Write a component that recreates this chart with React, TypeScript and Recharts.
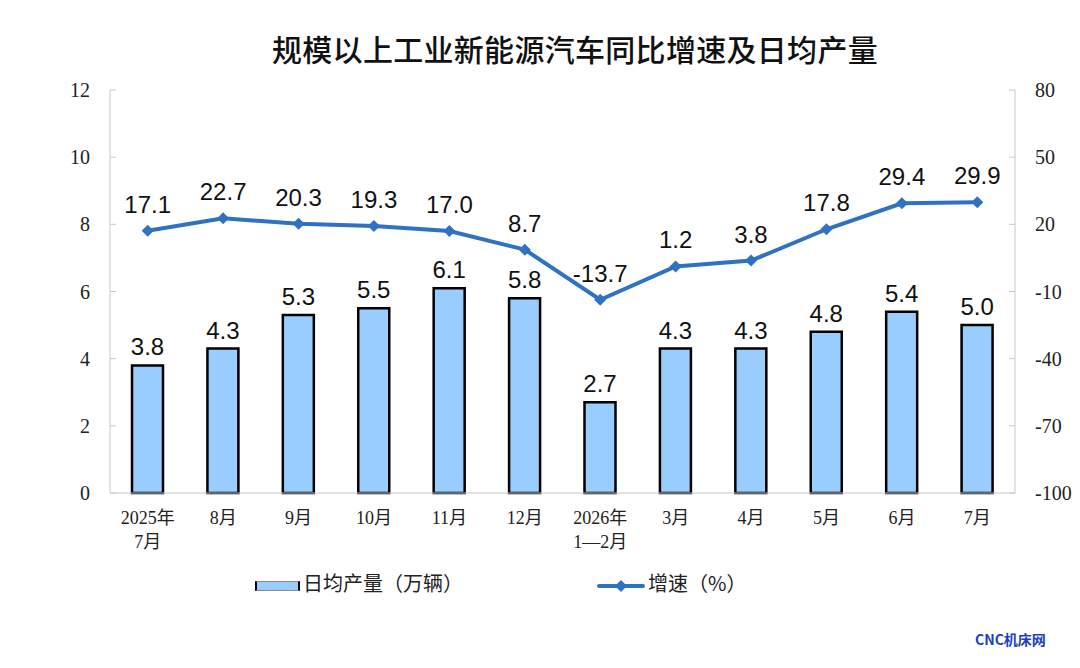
import {
  ComposedChart, Bar, Line, XAxis, YAxis, LabelList,
} from 'recharts'

// Kategorien (zweizeilig mit \n)
const MONTHS = [
  '2025年\n7月', '8月', '9月', '10月', '11月', '12月',
  '2026年\n1—2月', '3月', '4月', '5月', '6月', '7月',
]
// Tagesdurchschnitt Produktion (万辆)
const DAILY_OUTPUT = [3.8, 4.3, 5.3, 5.5, 6.1, 5.8, 2.7, 4.3, 4.3, 4.8, 5.4, 5.0]
// Wachstum ggü. Vorjahr (%)
const GROWTH = [17.1, 22.7, 20.3, 19.3, 17.0, 8.7, -13.7, 1.2, 3.8, 17.8, 29.4, 29.9]

const LEFT_TICKS = [0, 2, 4, 6, 8, 10, 12]
const RIGHT_TICKS = [-100, -70, -40, -10, 20, 50, 80]

const SERIF = '"Liberation Serif", "Noto Sans CJK SC", serif'
const SANS = '"Liberation Sans", Arial, sans-serif'
const CJK = '"Noto Sans CJK SC", sans-serif'
const LINE_COLOR = '#3071c2'
const BAR_FILL = '#99ccff'
const AXIS_GRAY = '#c8c8c8'

const chartData = MONTHS.map((m, i) => ({
  month: m,
  output: DAILY_OUTPUT[i],
  growth: GROWTH[i],
}))

function MonthTick({ x, y, payload }: any) {
  const lines = String(payload.value).split('\n')
  return (
    <text x={x} y={y + 23} textAnchor="middle" fontFamily={SERIF} fontSize={18} fill="#222">
      {lines.map((l, i) => (
        <tspan key={i} x={x} dy={i === 0 ? 0 : 24}>{l}</tspan>
      ))}
    </text>
  )
}

// Ticks zeigen nach innen (wie im Original), Text mit Abstand aussen
function ValueTick({ x, y, payload, side }: any) {
  const dir = side === 'left' ? 1 : -1
  return (
    <g>
      <line x1={x} y1={y} x2={x + dir * 6} y2={y} stroke={AXIS_GRAY} />
      <text
        x={x - dir * 20}
        y={y}
        dy={7}
        textAnchor={side === 'left' ? 'end' : 'start'}
        fontFamily={SERIF}
        fontSize={20}
        fill="#222"
      >
        {payload.value}
      </text>
    </g>
  )
}

function Diamond({ cx, cy }: any) {
  if (cx == null || cy == null) return null
  const r = 6
  return (
    <path
      d={`M${cx},${cy - r} L${cx + r},${cy} L${cx},${cy + r} L${cx - r},${cy} Z`}
      fill={LINE_COLOR}
    />
  )
}

function ChartLegend() {
  return (
    <div style={{ position: 'absolute', left: 0, top: 576, width: 1080, height: 30, fontFamily: CJK, fontSize: 20, color: '#222' }}>
      <div style={{
        position: 'absolute', left: 255, top: 5, width: 41, height: 8,
        background: BAR_FILL, borderLeft: '2px solid #000', borderRight: '2px solid #000',
        borderTop: '1px solid #888', borderBottom: '1px solid #888',
      }} />
      <span style={{ position: 'absolute', left: 303, top: -8 }}>日均产量（万辆）</span>
      <svg style={{ position: 'absolute', left: 597, top: 0 }} width={48} height={20}>
        <line x1={2} y1={10} x2={46} y2={10} stroke={LINE_COLOR} strokeWidth={4} strokeLinecap="round" />
        <path d="M24,4 L30,10 L24,16 L18,10 Z" fill={LINE_COLOR} />
      </svg>
      <span style={{ position: 'absolute', left: 648, top: -8 }}>增速（%）</span>
    </div>
  )
}

export default function App() {
  return (
    <div style={{ position: 'absolute', left: 0, top: 0, width: 1080, height: 668, background: '#fff' }}>
      <div style={{
        position: 'absolute', left: 0, top: 26, width: 1150, textAlign: 'center',
        fontFamily: CJK, fontSize: 30, fontWeight: 500, letterSpacing: 0.3, color: '#111',
      }}>
        规模以上工业新能源汽车同比增速及日均产量
      </div>
      <ComposedChart
        width={1080}
        height={668}
        data={chartData}
        margin={{ top: 90, right: 0, bottom: 175 - 60, left: 50 }}
      >
        <XAxis
          dataKey="month"
          interval={0}
          height={60}
          stroke={AXIS_GRAY}
          tickLine={false}
          tick={<MonthTick />}
        />
        <YAxis
          yAxisId="left"
          domain={[0, 12]}
          ticks={LEFT_TICKS}
          width={60}
          stroke={AXIS_GRAY}
          tickLine={false}
          tickSize={0}
          tickMargin={0}
          tick={<ValueTick side="left" />}
        />
        <YAxis
          yAxisId="right"
          orientation="right"
          domain={[-100, 80]}
          ticks={RIGHT_TICKS}
          width={65}
          stroke={AXIS_GRAY}
          tickLine={false}
          tickSize={0}
          tickMargin={0}
          tick={<ValueTick side="right" />}
        />
        <Bar
          yAxisId="left"
          dataKey="output"
          fill={BAR_FILL}
          stroke="#000"
          strokeWidth={2.5}
          barSize={31}
          isAnimationActive={false}
        >
          <LabelList
            dataKey="output"
            position="top"
            offset={10}
            formatter={(v: any) => Number(v).toFixed(1)}
            style={{ fill: '#111', fontSize: 24, fontFamily: SANS }}
          />
        </Bar>
        <Line
          yAxisId="right"
          dataKey="growth"
          stroke={LINE_COLOR}
          strokeWidth={4}
          dot={<Diamond />}
          activeDot={false}
          isAnimationActive={false}
        >
          <LabelList
            dataKey="growth"
            position="top"
            offset={18}
            formatter={(v: any) => Number(v).toFixed(1)}
            style={{ fill: '#111', fontSize: 24, fontFamily: SANS }}
          />
        </Line>
      </ComposedChart>
      <ChartLegend />
      <div style={{
        position: 'absolute', left: 975, top: 629, fontFamily: CJK, fontSize: 14,
        fontWeight: 700, color: '#1a3fbf',
      }}>
        CNC机床网
      </div>
    </div>
  )
}
